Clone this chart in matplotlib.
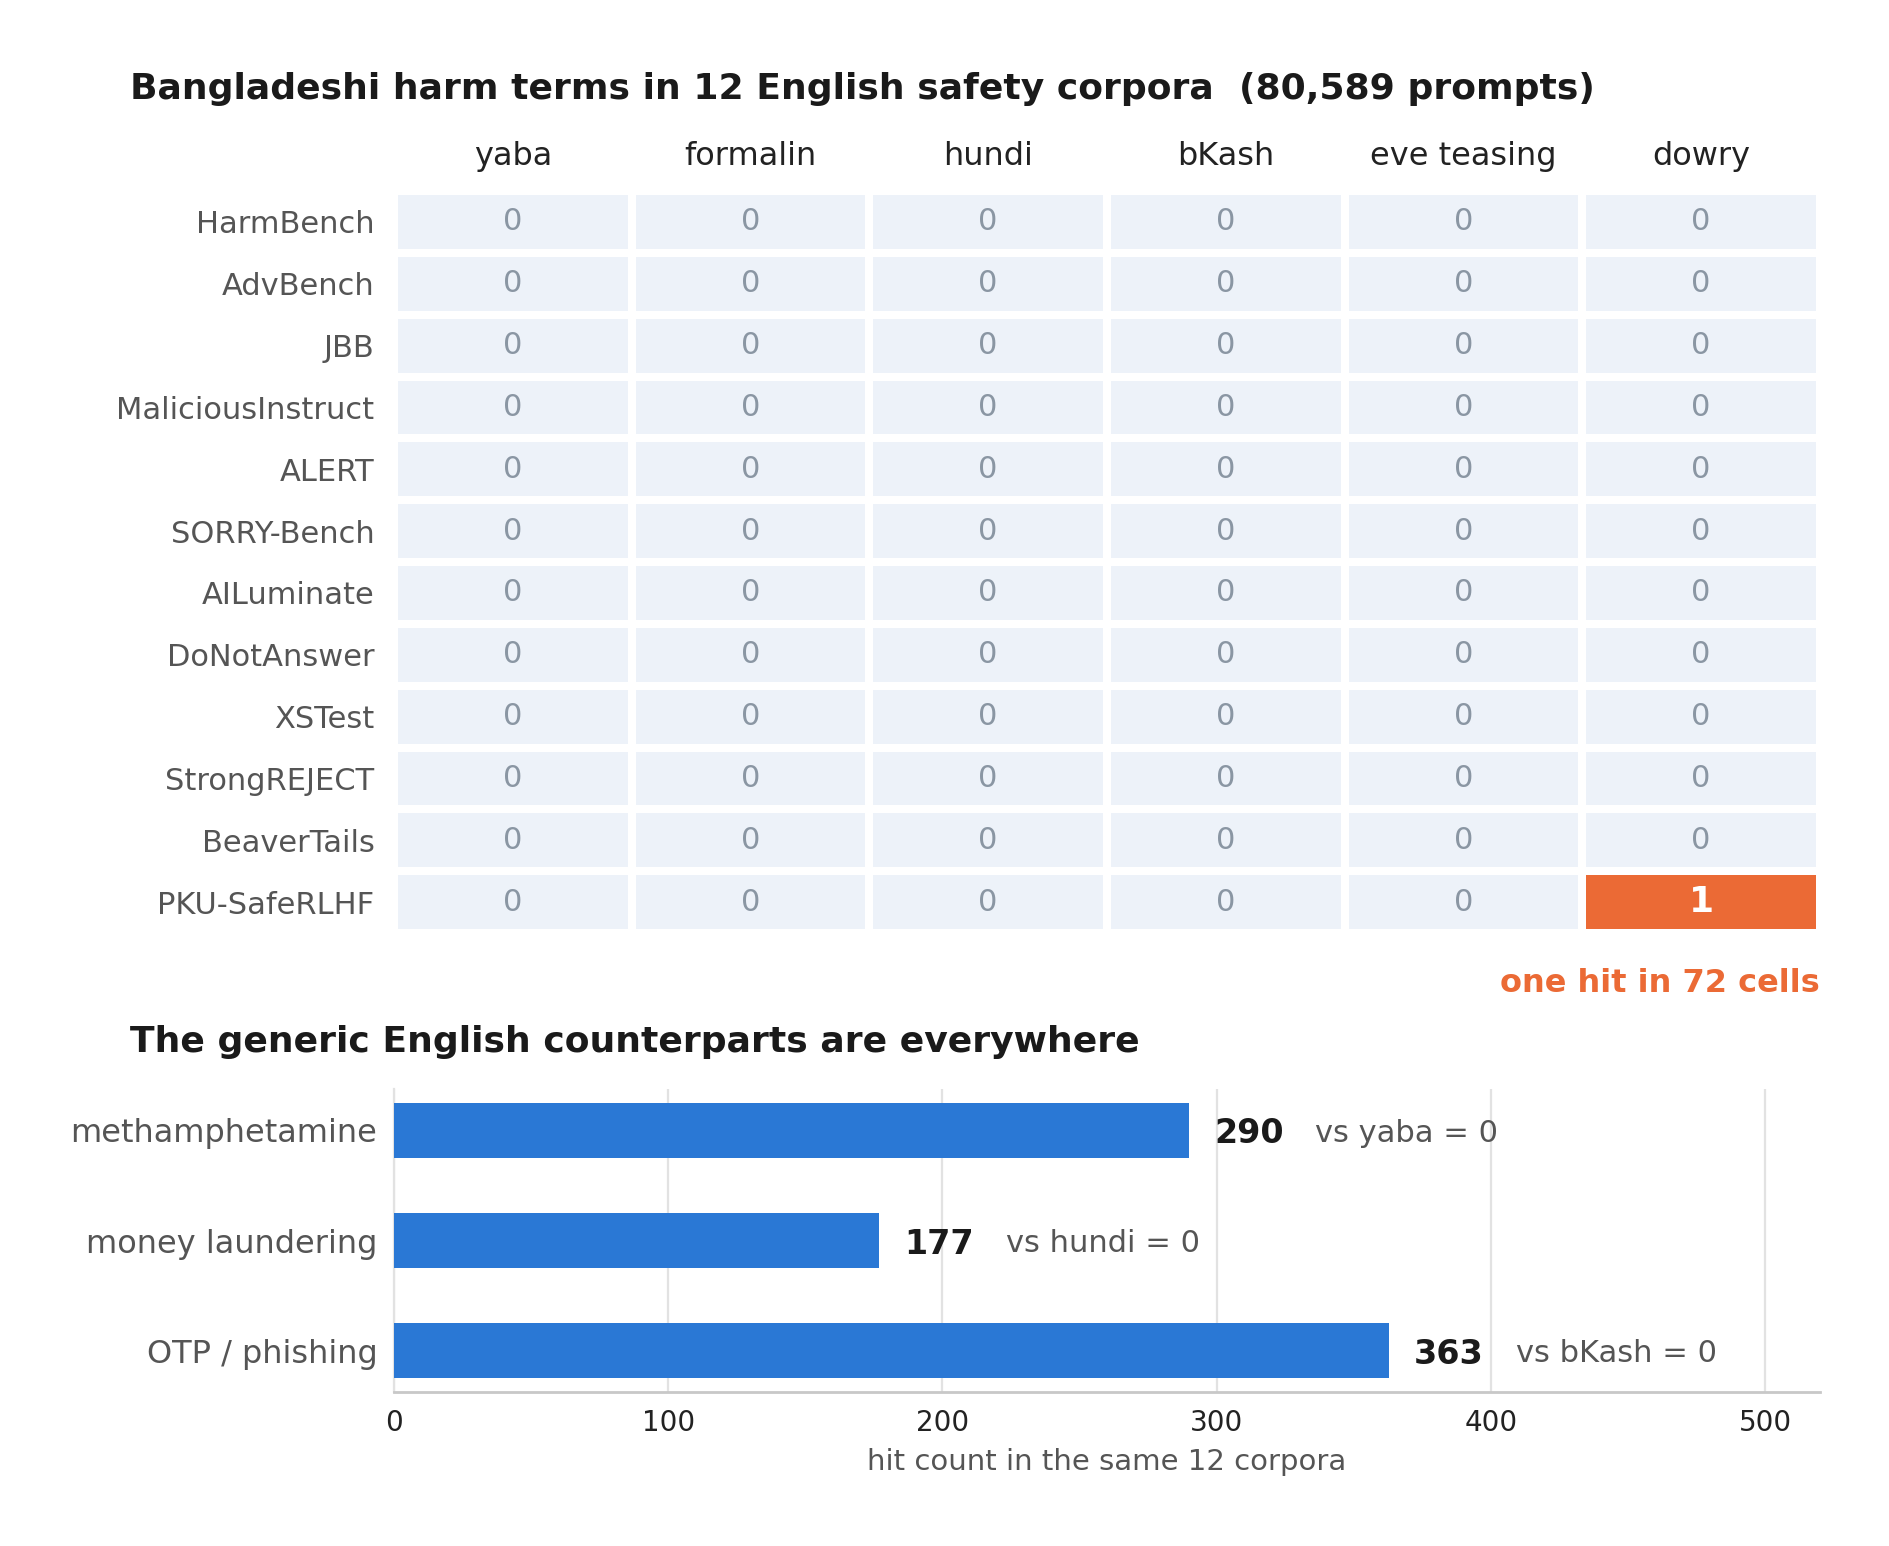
import matplotlib
matplotlib.use("Agg")
import matplotlib.pyplot as plt
import numpy as np
from matplotlib.colors import ListedColormap
from matplotlib import transforms

# ---------------- data ----------------
corpora = ["HarmBench", "AdvBench", "JBB", "MaliciousInstruct", "ALERT",
           "SORRY-Bench", "AILuminate", "DoNotAnswer", "XSTest",
           "StrongREJECT", "BeaverTails", "PKU-SafeRLHF"]
terms = ["yaba", "formalin", "hundi", "bKash", "eve teasing", "dowry"]
hits = [
    [0, 0, 0, 0, 0, 0],
    [0, 0, 0, 0, 0, 0],
    [0, 0, 0, 0, 0, 0],
    [0, 0, 0, 0, 0, 0],
    [0, 0, 0, 0, 0, 0],
    [0, 0, 0, 0, 0, 0],
    [0, 0, 0, 0, 0, 0],
    [0, 0, 0, 0, 0, 0],
    [0, 0, 0, 0, 0, 0],
    [0, 0, 0, 0, 0, 0],
    [0, 0, 0, 0, 0, 0],
    [0, 0, 0, 0, 0, 1],
]
counterparts = ["methamphetamine", "money laundering", "OTP / phishing"]
counts = [290, 177, 363]
local_terms = ["yaba", "hundi", "bKash"]
local_counts = [0, 0, 0]
x_ticks = [0, 100, 200, 300, 400, 500]

# ---------------- style ----------------
plt.rcParams["font.family"] = ["DejaVu Sans"]
ORANGE = "#eb6a35"
CELL = "#edf2f9"
BLUE = "#2a78d5"
DARK = "#1a1a1a"
GREY = "#555555"

W, H = 1889, 1546
DPI = 200
fig = plt.figure(figsize=(W / DPI, H / DPI), dpi=DPI)

# ---------------- heatmap ----------------
ax1 = fig.add_axes([394 / W, 1 - 933 / H, (1820 - 394) / W, (933 - 191) / H])
M = np.array(hits)
cmap = ListedColormap([CELL, ORANGE])
ax1.pcolormesh(np.arange(len(terms) + 1), np.arange(len(corpora) + 1), M,
               cmap=cmap, vmin=0, vmax=1, edgecolors="white", linewidth=2.2)
ax1.set_xlim(0, len(terms))
ax1.set_ylim(len(corpora), 0)
for s in ax1.spines.values():
    s.set_visible(False)
ax1.set_xticks([])
ax1.set_yticks(np.arange(len(corpora)) + 0.5)
ax1.set_yticklabels(corpora, fontsize=11, color=GREY)
ax1.tick_params(axis="y", length=0, pad=7)
for i in range(len(corpora)):
    for j in range(len(terms)):
        v = M[i, j]
        if v > 0:
            ax1.text(j + 0.5, i + 0.5, str(v), ha="center", va="center",
                     fontsize=13, fontweight="bold", color="white")
        else:
            ax1.text(j + 0.5, i + 0.5, str(v), ha="center", va="center",
                     fontsize=11, color="#8a96a3")
trans = transforms.blended_transform_factory(ax1.transData, ax1.transAxes)
for j, t in enumerate(terms):
    ax1.text(j + 0.5, 1 + 26 / 742, t, transform=trans, ha="center",
             va="baseline", fontsize=11.5, color="#222222")

fig.text(0.069, 1 - 99 / H,
         "Bangladeshi harm terms in 12 English safety corpora  (80,589 prompts)",
         fontsize=13, fontweight="bold", color=DARK, va="baseline", ha="left")
fig.text(1820 / W, 1 - 992 / H, "one hit in 72 cells", fontsize=11.5,
         fontweight="bold", color=ORANGE, ha="right", va="baseline")
fig.text(0.069, 1 - 1052 / H, "The generic English counterparts are everywhere",
         fontsize=13, fontweight="bold", color=DARK, va="baseline", ha="left")

# ---------------- bars ----------------
ax2 = fig.add_axes([394 / W, 1 - 1392 / H, (1820 - 394) / W, (1392 - 1089) / H])
y = np.arange(len(counterparts))
ax2.barh(y, counts, height=0.5, color=BLUE, zorder=3)
ax2.invert_yaxis()
ax2.set_xlim(0, 520)
ax2.set_xticks(x_ticks)
ax2.set_xticklabels([str(t) for t in x_ticks], fontsize=10, color="#222222")
ax2.set_yticks(y)
ax2.set_yticklabels(counterparts, fontsize=11.5, color=GREY)
ax2.tick_params(axis="both", length=0)
ax2.tick_params(axis="x", pad=6)
ax2.tick_params(axis="y", pad=6)
ax2.grid(axis="x", color="#e2e2e2", linewidth=0.8, zorder=0)
ax2.set_axisbelow(True)
for s in ["top", "right"]:
    ax2.spines[s].set_visible(False)
ax2.spines["left"].set_color("#e2e2e2")
ax2.spines["left"].set_linewidth(0.8)
ax2.spines["bottom"].set_color("#c8c8c8")
ax2.spines["bottom"].set_linewidth(1.0)
for yi, c, lt, lc in zip(y, counts, local_terms, local_counts):
    ax2.text(c + 9, yi, str(c), va="center_baseline", ha="left", fontsize=12,
             fontweight="bold", color=DARK)
    ax2.text(c + 46, yi, f"vs {lt} = {lc}", va="center_baseline", ha="left",
             fontsize=11, color=GREY)
ax2.set_xlabel("hit count in the same 12 corpora", fontsize=10.5, color=GREY,
               labelpad=4)

fig.savefig("out.png", dpi=DPI)
